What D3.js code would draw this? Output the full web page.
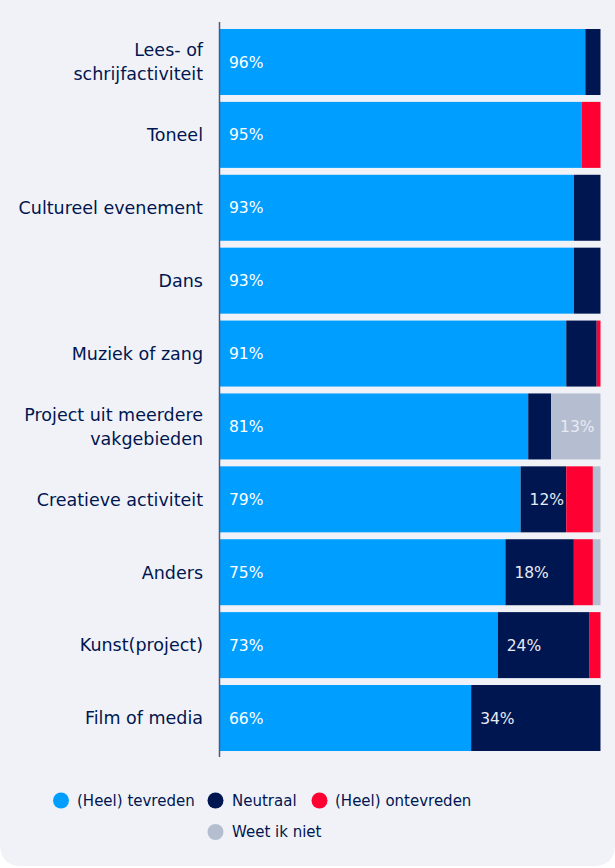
<!DOCTYPE html>
<html><head><meta charset="utf-8">
<script src="https://cdn.jsdelivr.net/npm/d3@7"></script>
<style>
html,body{margin:0;padding:0;background:#ffffff;}
svg{display:block;}
</style></head>
<body>
<svg id="chart" width="615" height="868"></svg>
<script>
const categories = [
  ["Lees- of","schrijfactiviteit"],
  ["Toneel"],
  ["Cultureel evenement"],
  ["Dans"],
  ["Muziek of zang"],
  ["Project uit meerdere","vakgebieden"],
  ["Creatieve activiteit"],
  ["Anders"],
  ["Kunst(project)"],
  ["Film of media"]
];
const seriesNames = ["(Heel) tevreden","Neutraal","(Heel) ontevreden","Weet ik niet"];
const tevreden   = [96,95,93,93,91,81,79,75,73,66];
const neutraal   = [4,0,7,7,8,6,12,18,24,34];
const ontevreden = [0,5,0,0,1,0,7,5,3,0];
const weetIkNiet = [0,0,0,0,0,13,2,2,0,0];
const colors = ["#009fff","#001650","#ff0032","#b5bdd0"];

const svg = d3.select("#chart");
const W = 615, H = 868;
const font = "'DejaVu Sans', sans-serif";

// panel background with rounded bottom corners
const r = 22;
svg.append("path")
  .attr("d", `M0,0 H${W} V${H-2-r} Q${W},${H-2} ${W-r},${H-2} H${r} Q0,${H-2} 0,${H-2-r} Z`)
  .attr("fill","#f0f2f7");

const x = d3.scaleLinear().domain([0,100]).range([220,600.5]);
const y = d3.scaleBand().domain(d3.range(categories.length)).range([29,751]).paddingInner(6.9/72.9).paddingOuter(0);

const data = categories.map((c,i)=>({i, vals:[tevreden[i],neutraal[i],ontevreden[i],weetIkNiet[i]]}));
const stackData = data.map(d=>{ const o={i:d.i}; seriesNames.forEach((s,k)=>o[s]=d.vals[k]); return o; });
const stacked = d3.stack().keys(seriesNames)(stackData);

stacked.forEach((layer,k)=>{
  svg.append("g").selectAll("rect").data(layer).join("rect")
    .attr("x", d=>x(d[0]))
    .attr("width", d=>Math.max(0, x(d[1])-x(d[0])))
    .attr("y", (d,j)=>y(j))
    .attr("height", y.bandwidth())
    .attr("fill", colors[k]);
});

// value labels
stacked.forEach((layer,k)=>{
  layer.forEach((d,j)=>{
    const v = d[1]-d[0];
    if ((k===0) || v>=10){
      svg.append("text")
        .attr("x", x(d[0])+9)
        .attr("y", y(j)+y.bandwidth()/2)
        .attr("dy","0.36em")
        .attr("font-family", font)
        .attr("font-size", 15.5)
        .attr("fill", k===0 ? "#ffffff" : "#e8ebf3")
        .text(v+"%");
    }
  });
});

// axis line
svg.append("line").attr("x1",219.5).attr("x2",219.5).attr("y1",22).attr("y2",757)
  .attr("stroke","#4e5784").attr("stroke-width",1.5);

// category labels
categories.forEach((lines,i)=>{
  const cy = y(i)+y.bandwidth()/2;
  const lh = 24;
  const t = svg.append("text")
    .attr("text-anchor","end")
    .attr("font-family", font)
    .attr("font-size", 17.5)
    .attr("fill","#001650");
  lines.forEach((ln,li)=>{
    t.append("tspan").attr("x",203)
      .attr("y", cy + (li-(lines.length-1)/2)*lh)
      .attr("dy","0.36em").text(ln);
  });
});

// legend
const legendItems = [
  {name:seriesNames[0], cx:61, cy:800.5, tx:77},
  {name:seriesNames[1], cx:215.5, cy:800.5, tx:232},
  {name:seriesNames[2], cx:319.5, cy:800.5, tx:335},
  {name:seriesNames[3], cx:215.5, cy:832, tx:232}
];
legendItems.forEach((l,k)=>{
  svg.append("circle").attr("cx",l.cx).attr("cy",l.cy).attr("r",8).attr("fill",colors[k]);
  svg.append("text").attr("x",l.tx).attr("y",l.cy).attr("dy","0.36em")
    .attr("font-family",font).attr("font-size",15).attr("fill","#001650").text(l.name);
});
</script>
</body></html>
